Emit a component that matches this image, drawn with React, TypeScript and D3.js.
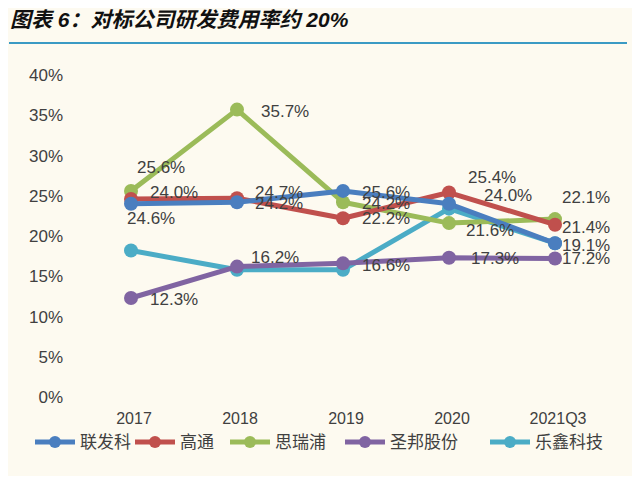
import * as d3 from 'd3';

const CATEGORIES = ['2017', '2018', '2019', '2020', '2021Q3'];
const SERIES_NAMES = ['联发科', '高通', '思瑞浦', '圣邦股份', '乐鑫科技'];
const COLORS = ['#4a7ebf', '#c0504d', '#9bbb59', '#8064a2', '#4bacc6'];
const MEDIATEK = [24.0, 24.2, 25.6, 24.0, 19.1];
const QUALCOMM = [24.6, 24.7, 22.2, 25.4, 21.4];
const SRP = [25.6, 35.7, 24.2, 21.6, 22.1];
const SGMICRO = [12.3, 16.2, 16.6, 17.3, 17.2];
const ESPRESSIF = [18.2, 15.8, 15.8, 23.4, 19.1];
const Y_TICKS = [0, 5, 10, 15, 20, 25, 30, 35, 40];
// [series, point index, dx, dy]
const LABELS: [number, number, number, number][] = [
  [2, 0, 6, -24], [0, 0, 19, -12], [1, 0, -4, 19], [3, 0, 19, 1],
  [1, 1, 18, -6], [0, 1, 18, 1], [2, 1, 24, 1], [3, 1, 14, -10],
  [0, 2, 19, 1], [2, 2, 19, 1], [1, 2, 19, 0], [3, 2, 19, 2],
  [1, 3, 19, -16], [0, 3, 35, -9], [2, 3, 17, 7], [3, 3, 22, 0],
  [2, 4, 7, -22], [1, 4, 7, 2], [0, 4, 7, 2], [3, 4, 7, -1],
];
const LEGEND_X = [35, 135, 230, 345, 490];

export default function App() {
  const W = 640, H = 484;
  const series = [MEDIATEK, QUALCOMM, SRP, SGMICRO, ESPRESSIF];
  const x = d3.scalePoint().domain(CATEGORIES).range([131, 555]);
  const y = d3.scaleLinear().domain([0, 40]).range([397, 75]);
  const line = d3.line<number>().x((_, i) => x(CATEGORIES[i])!).y((d) => y(d));
  const font = 'Arial, "Liberation Sans", "Noto Sans CJK SC", sans-serif';
  const drawOrder = [4, 3, 2, 1, 0];

  return (
    <div style={{ margin: -8 }}>
      <svg width={W} height={H} style={{ display: 'block', background: '#fdfaf0', fontFamily: font }}>
        <text x={10} y={27} fontSize={21} fontWeight="bold" fontStyle="italic" fill="#111">图表 6：对标公司研发费用率约 20%</text>
        <line x1={9} x2={627} y1={43} y2={43} stroke="#3a9ac4" strokeWidth={2} />
        {Y_TICKS.map((t) => (
          <text key={t} x={63} y={y(t) + 6} textAnchor="end" fontSize={17} fill="#404040">{t}%</text>
        ))}
        {CATEGORIES.map((c) => (
          <text key={c} x={x(c)! + 3} y={424} textAnchor="middle" fontSize={16} fill="#404040">{c}</text>
        ))}
        {drawOrder.map((s) => (
          <g key={s}>
            <path d={line(series[s])!} fill="none" stroke={COLORS[s]} strokeWidth={5} strokeLinejoin="round" />
            {series[s].map((v, i) => (
              <circle key={i} cx={x(CATEGORIES[i])} cy={y(v)} r={7} fill={COLORS[s]} />
            ))}
          </g>
        ))}
        {LABELS.map(([s, i, dx, dy], k) => (
          <text key={k} x={x(CATEGORIES[i])! + dx} y={y(series[s][i]) + dy + 6} fontSize={17} fill="#404040">
            {series[s][i].toFixed(1)}%
          </text>
        ))}
        {SERIES_NAMES.map((n, s) => (
          <g key={n}>
            <line x1={LEGEND_X[s]} x2={LEGEND_X[s] + 40} y1={442} y2={442} stroke={COLORS[s]} strokeWidth={5} />
            <circle cx={LEGEND_X[s] + 20} cy={442} r={6} fill={COLORS[s]} />
            <text x={LEGEND_X[s] + 45} y={448} fontSize={17} fill="#404040">{n}</text>
          </g>
        ))}
        <line x1={0} x2={640} y1={481} y2={481} stroke="#3a9ac4" strokeWidth={2} />
      </svg>
    </div>
  );
}
